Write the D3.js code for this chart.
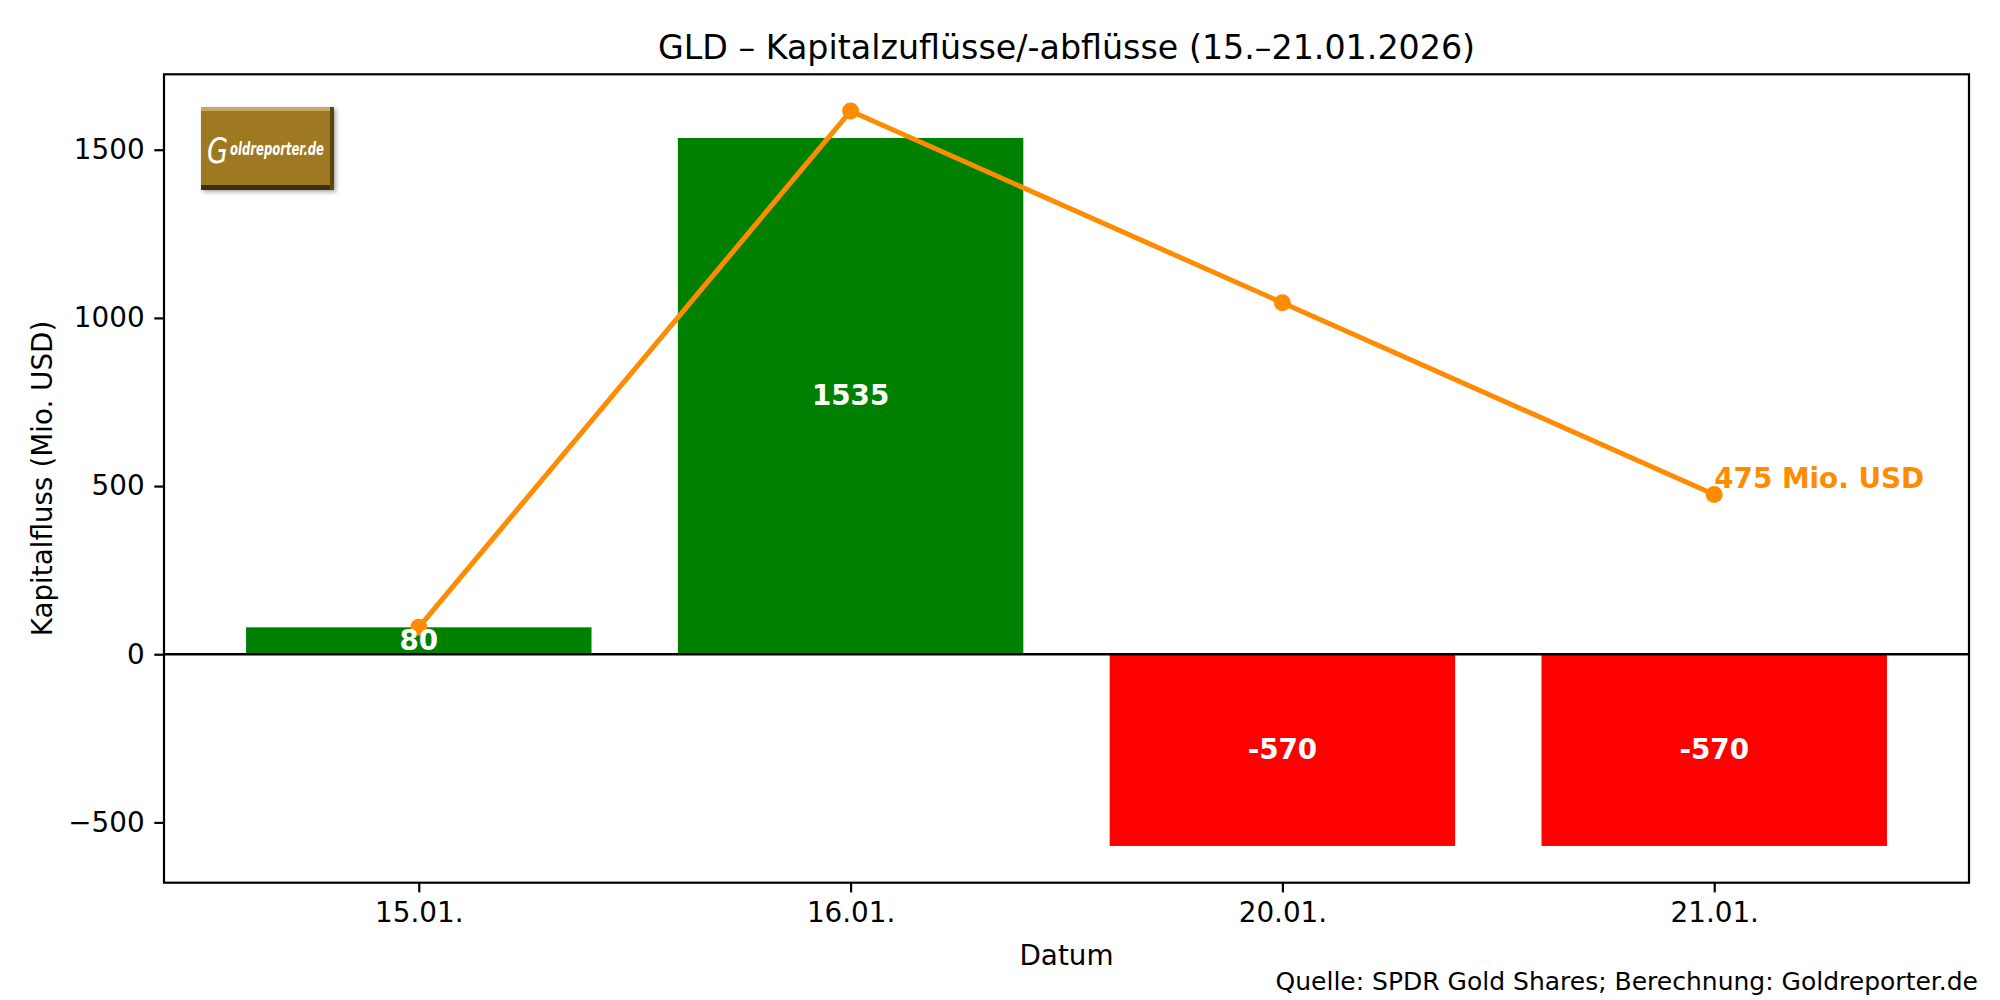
<!DOCTYPE html>
<html><head><meta charset="utf-8">
<script src="https://cdn.jsdelivr.net/npm/d3@7"></script>
<style>html,body{margin:0;padding:0;background:#fff;}svg{display:block;}text{font-family:"DejaVu Sans",sans-serif;}</style>
</head><body><svg id="chart" width="2000" height="1000"></svg>
<script>
const categories = ["15.01.", "16.01.", "20.01.", "21.01."];
const flows = [80, 1535, -570, -570];
const cumulative = [80, 1615, 1045, 475];
const yTicks = [-500, 0, 500, 1000, 1500];
const title = "GLD – Kapitalzuflüsse/-abflüsse (15.–21.01.2026)";
const xLabel = "Datum";
const yLabel = "Kapitalfluss (Mio. USD)";
const sourceText = "Quelle: SPDR Gold Shares; Berechnung: Goldreporter.de";
const endLabel = "475 Mio. USD";

const svg = d3.select("#chart");
const L = 164, R = 1969, T = 74.3, B = 882.7;
const x = d3.scaleLinear().domain([-0.59, 3.59]).range([L, R]);
const y = d3.scaleLinear().domain([-679.25, 1724.25]).range([B, T]);
const bw = 0.8;

// bars
svg.append("g").selectAll("rect").data(flows).join("rect")
  .attr("x", (d,i) => x(i - bw/2))
  .attr("width", (d,i) => x(i + bw/2) - x(i - bw/2))
  .attr("y", d => y(Math.max(0,d)))
  .attr("height", d => Math.abs(y(d) - y(0)))
  .attr("fill", d => d >= 0 ? "#008000" : "#ff0000");

// zero line
svg.append("line").attr("x1", L).attr("x2", R).attr("y1", y(0)).attr("y2", y(0))
  .attr("stroke", "#000").attr("stroke-width", 2.4);

// cumulative line
svg.append("path").datum(cumulative)
  .attr("d", d3.line().x((d,i) => x(i)).y(d => y(d)))
  .attr("fill", "none").attr("stroke", "#ff8c00").attr("stroke-width", 5)
  .attr("stroke-linejoin", "round").attr("stroke-linecap", "round");
svg.append("g").selectAll("circle").data(cumulative).join("circle")
  .attr("cx", (d,i) => x(i)).attr("cy", d => y(d)).attr("r", 8.5).attr("fill", "#ff8c00");

// bar labels
svg.append("g").selectAll("text").data(flows).join("text")
  .attr("x", (d,i) => x(i)).attr("y", d => y(d/2))
  .attr("dy", "0.33em").attr("text-anchor", "middle")
  .attr("font-size", 27.8).attr("font-weight", "bold").attr("fill", "#fff")
  .text(d => d);

// end label
svg.append("text").attr("x", x(3)).attr("y", y(cumulative[3]) - 6.5)
  .attr("font-size", 27.8).attr("font-weight", "bold").attr("fill", "#ff8c00")
  .text(endLabel);

// axes
const yAxis = d3.axisLeft(y).tickValues(yTicks).tickSize(9.7).tickPadding(9.7)
  .tickFormat(d => d < 0 ? "\u2212" + Math.abs(d) : d);
const gy = svg.append("g").attr("transform", `translate(${L},0)`).call(yAxis);
const xAxis = d3.axisBottom(x).tickValues(d3.range(categories.length)).tickSize(9.7).tickPadding(9.7)
  .tickFormat(i => categories[i]);
const gx = svg.append("g").attr("transform", `translate(0,${B})`).call(xAxis);
[gx, gy].forEach(g => {
  g.select(".domain").remove();
  g.selectAll(".tick line").attr("stroke", "#000").attr("stroke-width", 2.2);
  g.selectAll(".tick text").attr("font-size", 27.8).attr("fill", "#000")
    .attr("font-family", "DejaVu Sans");
});

// frame
svg.append("rect").attr("x", L).attr("y", T).attr("width", R - L).attr("height", B - T)
  .attr("fill", "none").attr("stroke", "#000").attr("stroke-width", 2.2);

// title and labels
svg.append("text").attr("x", (L+R)/2).attr("y", 47).attr("dy", "0.36em")
  .attr("text-anchor", "middle").attr("font-size", 33.3).text(title);
svg.append("text").attr("x", (L+R)/2).attr("y", 955).attr("dy", "0.36em")
  .attr("text-anchor", "middle").attr("font-size", 27.8).text(xLabel);
svg.append("text").attr("transform", `translate(42,${(T+B)/2}) rotate(-90)`).attr("dy", "0.36em")
  .attr("text-anchor", "middle").attr("font-size", 27.8).text(yLabel);
svg.append("text").attr("x", 1978).attr("y", 981).attr("dy", "0.36em")
  .attr("text-anchor", "end").attr("font-size", 25).text(sourceText);

// logo
const lg = svg.append("g").attr("transform", "translate(201,107)");
const defs = svg.append("defs");
const f = defs.append("filter").attr("id", "sh").attr("x", "-20%").attr("y", "-20%").attr("width", "140%").attr("height", "140%");
f.append("feGaussianBlur").attr("in", "SourceAlpha").attr("stdDeviation", 2);
f.append("feOffset").attr("dx", 2).attr("dy", 2).attr("result", "b");
f.append("feComponentTransfer").append("feFuncA").attr("type", "linear").attr("slope", 0.35);
const fm = f.append("feMerge"); fm.append("feMergeNode"); fm.append("feMergeNode").attr("in", "SourceGraphic");
const lgBox = lg.append("g").attr("filter", "url(#sh)");
lgBox.append("rect").attr("width", 133).attr("height", 83).attr("fill", "#9f7820");
lgBox.append("rect").attr("width", 133).attr("height", 4).attr("fill", "#c8a866");
lgBox.append("rect").attr("y", 78).attr("width", 133).attr("height", 5).attr("fill", "#3e2e08");
lgBox.append("rect").attr("x", 129).attr("width", 4).attr("height", 83).attr("fill", "#5a440f");
lg.append("text").attr("x", 6).attr("y", 56).attr("font-size", 36).attr("font-style", "italic")
  .attr("font-family", "DejaVu Serif").attr("fill", "#fff")
  .attr("textLength", 21).attr("lengthAdjust", "spacingAndGlyphs").text("G");
lg.append("text").attr("x", 29).attr("y", 48).attr("font-size", 17).attr("font-weight", "bold")
  .attr("font-style", "italic").attr("font-family", "Liberation Sans Narrow, Liberation Sans").attr("fill", "#fff")
  .attr("textLength", 94).attr("lengthAdjust", "spacingAndGlyphs")
  .text("oldreporter.de");
</script></body></html>
